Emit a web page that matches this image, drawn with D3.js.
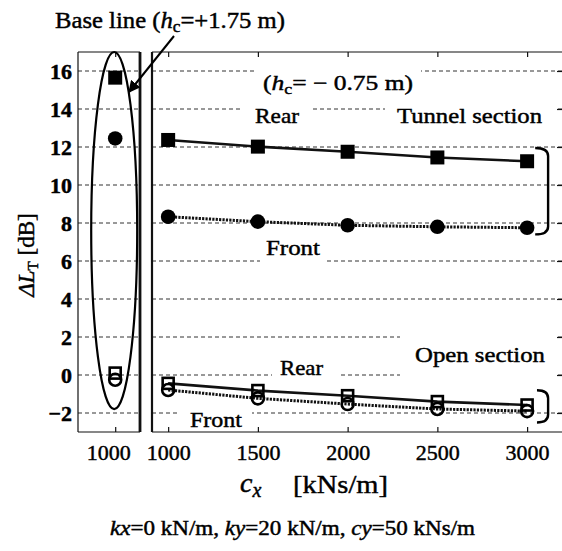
<!DOCTYPE html>
<html><head><meta charset="utf-8">
<script src="https://cdn.jsdelivr.net/npm/d3@7/dist/d3.min.js"></script>
<style>
body{margin:0;background:#fff}
svg{display:block}
text{font-family:"Liberation Serif","Times New Roman",serif;fill:#000;stroke:#000;stroke-width:0.45px}
</style>
</head><body>
<svg id="chart" width="562" height="551"></svg>
<script>
// ---------- data ----------
const cxValues = [1000, 1500, 2000, 2500, 3000];
const tunnelRear  = [12.37, 12.02, 11.75, 11.45, 11.25];
const tunnelFront = [8.33, 8.07, 7.88, 7.80, 7.75];
const openRear    = [-0.44, -0.82, -1.09, -1.40, -1.58];
const openFront   = [-0.79, -1.23, -1.53, -1.79, -1.90];
const baseCx = [1000];
const baseTunnelRear  = [15.65];
const baseTunnelFront = [12.45];
const baseOpenRear    = [0.10];
const baseOpenFront   = [-0.25];
const yTickValues = [-2, 0, 2, 4, 6, 8, 10, 12, 14, 16];
const xTickValues = [1000, 1500, 2000, 2500, 3000];
const baseTickValues = [1000];

// ---------- layout ----------
const svg = d3.select("#chart");
const topY = 52, bottomY = 432;
const y = d3.scaleLinear().domain([-3, 17]).range([bottomY, topY]);
const xL = d3.scaleLinear().domain([700, 1200]).range([78, 140]);
const xR = d3.scaleLinear().domain([910, 3200]).range([152, 563]);

// ---------- grid ----------
const grid = svg.append("g");
[[78, 140], [152, 563]].forEach(([a, b]) => {
  grid.selectAll(null).data(yTickValues).enter().append("line")
    .attr("x1", a).attr("x2", b)
    .attr("y1", d => y(d)).attr("y2", d => y(d))
    .attr("stroke", "#333").attr("stroke-width", 1)
    .attr("stroke-dasharray", "4,3");
});

// ---------- labels with white backgrounds ----------
function label(x, yb, size, parts, width, pad) {
  const g = svg.append("g");
  const t = g.append("text").attr("x", x).attr("y", yb)
    .attr("font-size", size);
  parts.forEach(p => {
    const s = t.append("tspan").text(p.t);
    if (p.i) s.attr("font-style", "italic");
    if (p.sub) s.attr("font-size", size * 0.7).attr("dy", p.sub);
    if (p.dy) s.attr("dy", p.dy);
  });
  if (width) t.attr("textLength", width).attr("lengthAdjust", "spacingAndGlyphs");
  if (pad) {
    const bb = t.node().getBBox();
    g.insert("rect", "text")
      .attr("x", bb.x - pad[0]).attr("y", bb.y - pad[1])
      .attr("width", bb.width + pad[0] + pad[2])
      .attr("height", bb.height + pad[1] + pad[3])
      .attr("fill", "#fff");
  }
  return t;
}

label(263, 90, 21, [{t:"("},{t:"h",i:true},{t:"c",sub:4},{t:"= − 0.75 m)",dy:-4}], 150, [6,2,8,2]);
label(255, 123, 22, [{t:"Rear"}], 44, [12,3,13,2]);
label(397, 123, 22, [{t:"Tunnel section"}], 145, [12,3,16,2]);
label(266, 255, 22, [{t:"Front"}], 54, [6,2,6,2]);
label(415, 362, 22, [{t:"Open section"}], 130, [15,10,12,16]);
label(280, 375, 22, [{t:"Rear"}], 43, [8,3,15,3]);
label(190, 427, 22, [{t:"Front"}], 52, [10,3,10,3]);

// ---------- series ----------
const series = [
  {v: tunnelRear, dash: null, m: "sq", fill: true},
  {v: tunnelFront, dash: "2.2,1.2", m: "ci", fill: true},
  {v: openFront, dash: "2.2,1.2", m: "ci", fill: false},
  {v: openRear, dash: null, m: "sq", fill: false}
];
const line = d3.line().x((d, i) => xR(cxValues[i])).y(d => y(d));
series.forEach(s => {
  svg.append("path").attr("d", line(s.v)).attr("fill", "none")
    .attr("stroke", "#111").attr("stroke-width", s.dash ? 3 : 2.6)
    .attr("stroke-dasharray", s.dash);
});

function markers(xs, vals, sc, type, fill) {
  const g = svg.append("g");
  const data = vals.map((v, i) => ({x: sc(xs[i]), y: y(v)}));
  if (type === "sq") {
    const s = fill ? 14 : 11;
    g.selectAll("rect").data(data).enter().append("rect")
      .attr("x", d => d.x - s / 2).attr("y", d => d.y - s / 2)
      .attr("width", s).attr("height", s)
      .attr("fill", fill ? "#000" : "none")
      .attr("stroke", "#000").attr("stroke-width", fill ? 0 : 2.6);
  } else {
    g.selectAll("circle").data(data).enter().append("circle")
      .attr("cx", d => d.x).attr("cy", d => d.y).attr("r", fill ? 7.3 : 6)
      .attr("fill", fill ? "#000" : "none")
      .attr("stroke", "#000").attr("stroke-width", fill ? 0 : 2.6);
  }
}
series.forEach(s => markers(cxValues, s.v, xR, s.m, s.fill));
markers(baseCx, baseTunnelRear, xL, "sq", true);
markers(baseCx, baseTunnelFront, xL, "ci", true);
markers(baseCx, baseOpenFront, xL, "ci", false);
markers(baseCx, baseOpenRear, xL, "sq", false);

// ---------- frames & axes ----------
const frame = svg.append("g").attr("fill", "none").attr("stroke", "#111");
frame.append("line").attr("x1", 78).attr("x2", 78).attr("y1", topY).attr("y2", bottomY).attr("stroke-width", 1.2);
[[78,140],[152,563]].forEach(([a,b]) => {
  frame.append("line").attr("x1", a).attr("x2", b).attr("y1", topY).attr("y2", topY).attr("stroke-width", 1.2);
  frame.append("line").attr("x1", a).attr("x2", b).attr("y1", bottomY).attr("y2", bottomY).attr("stroke-width", 1.2);
});
frame.append("line").attr("x1", 140).attr("x2", 140).attr("y1", topY).attr("y2", bottomY).attr("stroke-width", 2.8);
frame.append("line").attr("x1", 152).attr("x2", 152).attr("y1", topY).attr("y2", bottomY).attr("stroke-width", 2.2);

function styleAxis(g) {
  g.select(".domain").remove();
  g.selectAll(".tick line").attr("stroke", "#111").attr("stroke-width", 1.2);
  g.selectAll("text").attr("fill", "#000");
}
svg.append("g").attr("transform", "translate(78,0)")
  .call(d3.axisLeft(y).tickValues(yTickValues).tickSize(0).tickPadding(6).tickFormat(d3.format("d")))
  .call(styleAxis)
  .call(g => g.selectAll("text").attr("font-size", 22).attr("font-weight", "bold"));
svg.append("g").attr("transform", "translate(563,0)")
  .call(d3.axisRight(y).tickValues(yTickValues).tickSize(-6).tickFormat(""))
  .call(styleAxis);
svg.append("g").attr("transform", `translate(0,${bottomY})`)
  .call(d3.axisBottom(xR).tickValues(xTickValues).tickSize(-5).tickPadding(12).tickFormat(d3.format("d")))
  .call(styleAxis)
  .call(g => g.selectAll("text").attr("font-size", 22));
svg.append("g").attr("transform", `translate(0,${bottomY})`)
  .call(d3.axisBottom(xL).tickValues(baseTickValues).tickSize(-5).tickPadding(12).tickFormat(d3.format("d")))
  .call(styleAxis)
  .call(g => g.selectAll("text").attr("font-size", 22).attr("dx", -7));
svg.append("g").attr("transform", `translate(0,${topY})`)
  .call(d3.axisTop(xR).tickValues(xTickValues).tickSize(-5).tickFormat(""))
  .call(styleAxis);
svg.append("g").attr("transform", `translate(0,${topY})`)
  .call(d3.axisTop(xL).tickValues(baseTickValues).tickSize(-5).tickFormat(""))
  .call(styleAxis);

// ---------- annotations ----------
const eTop = 17, eBot = -1.8;
svg.append("ellipse")
  .attr("cx", xL(1000) - 1).attr("cy", (y(eTop) + y(eBot)) / 2)
  .attr("rx", 23).attr("ry", (y(eBot) - y(eTop)) / 2)
  .attr("fill", "none").attr("stroke", "#000").attr("stroke-width", 2.2);

function bracket(v1, v2, xa, xb) {
  const x1 = xR(xa), x2 = xR(xb), y1 = y(v1), y2 = y(v2);
  svg.append("path")
    .attr("d", `M${x1},${y1} Q${x2},${y1} ${x2},${y1 + 8} L${x2},${y2 - 8} Q${x2},${y2} ${x1},${y2}`)
    .attr("fill", "none").attr("stroke", "#000").attr("stroke-width", 2.4);
}
bracket(11.95, 7.4, 3045, 3117);
bracket(-0.8, -2.5, 3055, 3117);

svg.append("defs").append("marker").attr("id", "ah")
  .attr("viewBox", "0 0 10 10").attr("refX", 9).attr("refY", 5)
  .attr("markerWidth", 6).attr("markerHeight", 6).attr("orient", "auto")
  .append("path").attr("d", "M0,0 L10,5 L0,10 z").attr("fill", "#000");
svg.append("line").attr("x1", 174).attr("y1", 36).attr("x2", 129).attr("y2", 92)
  .attr("stroke", "#000").attr("stroke-width", 2).attr("marker-end", "url(#ah)");

label(55, 28, 23, [{t:"Base line ("},{t:"h",i:true},{t:"c",sub:4},{t:"=+1.75 m)",dy:-4}], 230, null);

const yt = svg.append("text").attr("transform", "translate(34,255) rotate(-90)")
  .attr("text-anchor", "middle").attr("font-size", 23);
yt.append("tspan").text("ΔL").attr("font-style", "italic");
yt.append("tspan").text("T").attr("font-size", 15).attr("dy", 4);
yt.append("tspan").text(" [dB]").attr("dy", -4);

const xt = svg.append("text").attr("x", 240).attr("y", 492).attr("font-size", 28);
xt.append("tspan").text("c").attr("font-style", "italic");
xt.append("tspan").text("x").attr("font-style", "italic").attr("font-size", 20).attr("dy", 5);
svg.append("text").attr("x", 293).attr("y", 493).attr("font-size", 26)
  .attr("textLength", 95).attr("lengthAdjust", "spacingAndGlyphs").text("[kNs/m]");

const note = svg.append("text").attr("x", 110).attr("y", 535).attr("font-size", 20)
  .attr("textLength", 365).attr("lengthAdjust", "spacingAndGlyphs");
[["k",1],["x",1],["=0 kN/m, ",0],["k",1],["y",1],["=20 kN/m, ",0],["c",1],["y",1],["=50 kNs/m",0]]
  .forEach(([t, it]) => { const s = note.append("tspan").text(t); if (it) s.attr("font-style", "italic"); });
</script>
</body></html>
